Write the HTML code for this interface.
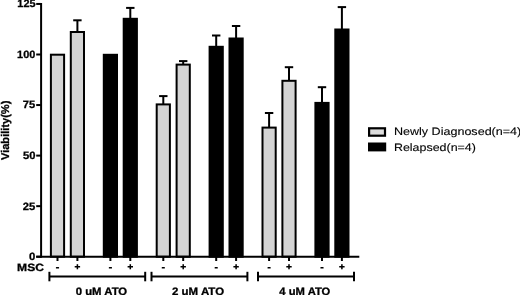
<!DOCTYPE html>
<html><head><meta charset="utf-8"><style>
html,body{margin:0;padding:0;background:#fff;width:520px;height:295px;overflow:hidden}
svg{display:block;will-change:transform}
.b{font-family:"Liberation Sans",sans-serif;font-weight:bold;fill:#000;stroke:#000;stroke-width:0.3px;text-rendering:geometricPrecision}
.r{font-family:"Liberation Sans",sans-serif;font-weight:normal;fill:#000;stroke:#000;stroke-width:0.12px;text-rendering:geometricPrecision}
</style></head><body>
<svg width="520" height="295" viewBox="0 0 520 295">
<rect x="50.90" y="54.70" width="13.20" height="202.00" fill="#d4d4d4" stroke="#000" stroke-width="2.0"/>
<line x1="77.40" y1="20.30" x2="77.40" y2="32.00" stroke="#000" stroke-width="2.0"/>
<line x1="73.20" y1="20.30" x2="81.60" y2="20.30" stroke="#000" stroke-width="2.0"/>
<rect x="70.80" y="32.00" width="13.20" height="224.70" fill="#d4d4d4" stroke="#000" stroke-width="2.0"/>
<rect x="103.80" y="54.80" width="13.20" height="201.90" fill="#000" stroke="#000" stroke-width="2.0"/>
<line x1="130.30" y1="7.90" x2="130.30" y2="18.80" stroke="#000" stroke-width="2.0"/>
<line x1="126.10" y1="7.90" x2="134.50" y2="7.90" stroke="#000" stroke-width="2.0"/>
<rect x="123.70" y="18.80" width="13.20" height="237.90" fill="#000" stroke="#000" stroke-width="2.0"/>
<line x1="163.30" y1="96.10" x2="163.30" y2="104.40" stroke="#000" stroke-width="2.0"/>
<line x1="159.10" y1="96.10" x2="167.50" y2="96.10" stroke="#000" stroke-width="2.0"/>
<rect x="156.70" y="104.40" width="13.20" height="152.30" fill="#d4d4d4" stroke="#000" stroke-width="2.0"/>
<line x1="183.20" y1="61.10" x2="183.20" y2="64.60" stroke="#000" stroke-width="2.0"/>
<line x1="179.00" y1="61.10" x2="187.40" y2="61.10" stroke="#000" stroke-width="2.0"/>
<rect x="176.60" y="64.60" width="13.20" height="192.10" fill="#d4d4d4" stroke="#000" stroke-width="2.0"/>
<line x1="216.20" y1="35.50" x2="216.20" y2="46.80" stroke="#000" stroke-width="2.0"/>
<line x1="212.00" y1="35.50" x2="220.40" y2="35.50" stroke="#000" stroke-width="2.0"/>
<rect x="209.60" y="46.80" width="13.20" height="209.90" fill="#000" stroke="#000" stroke-width="2.0"/>
<line x1="236.10" y1="26.00" x2="236.10" y2="38.50" stroke="#000" stroke-width="2.0"/>
<line x1="231.90" y1="26.00" x2="240.30" y2="26.00" stroke="#000" stroke-width="2.0"/>
<rect x="229.50" y="38.50" width="13.20" height="218.20" fill="#000" stroke="#000" stroke-width="2.0"/>
<line x1="269.10" y1="113.00" x2="269.10" y2="127.60" stroke="#000" stroke-width="2.0"/>
<line x1="264.90" y1="113.00" x2="273.30" y2="113.00" stroke="#000" stroke-width="2.0"/>
<rect x="262.50" y="127.60" width="13.20" height="129.10" fill="#d4d4d4" stroke="#000" stroke-width="2.0"/>
<line x1="289.00" y1="67.20" x2="289.00" y2="80.80" stroke="#000" stroke-width="2.0"/>
<line x1="284.80" y1="67.20" x2="293.20" y2="67.20" stroke="#000" stroke-width="2.0"/>
<rect x="282.40" y="80.80" width="13.20" height="175.90" fill="#d4d4d4" stroke="#000" stroke-width="2.0"/>
<line x1="322.00" y1="87.20" x2="322.00" y2="102.90" stroke="#000" stroke-width="2.0"/>
<line x1="317.80" y1="87.20" x2="326.20" y2="87.20" stroke="#000" stroke-width="2.0"/>
<rect x="315.40" y="102.90" width="13.20" height="153.80" fill="#000" stroke="#000" stroke-width="2.0"/>
<line x1="341.90" y1="7.10" x2="341.90" y2="29.50" stroke="#000" stroke-width="2.0"/>
<line x1="337.70" y1="7.10" x2="346.10" y2="7.10" stroke="#000" stroke-width="2.0"/>
<rect x="335.30" y="29.50" width="13.20" height="227.20" fill="#000" stroke="#000" stroke-width="2.0"/>
<line x1="41.1" y1="3" x2="41.1" y2="257.70" stroke="#000" stroke-width="2.0"/>
<line x1="36.2" y1="256.7" x2="359.3" y2="256.7" stroke="#000" stroke-width="2.0"/>
<line x1="36.2" y1="256.70" x2="41.1" y2="256.70" stroke="#000" stroke-width="2.0"/>
<line x1="36.2" y1="206.15" x2="41.1" y2="206.15" stroke="#000" stroke-width="2.0"/>
<line x1="36.2" y1="155.60" x2="41.1" y2="155.60" stroke="#000" stroke-width="2.0"/>
<line x1="36.2" y1="105.05" x2="41.1" y2="105.05" stroke="#000" stroke-width="2.0"/>
<line x1="36.2" y1="54.50" x2="41.1" y2="54.50" stroke="#000" stroke-width="2.0"/>
<line x1="36.2" y1="3.95" x2="41.1" y2="3.95" stroke="#000" stroke-width="2.0"/>
<text x="17.37" y="7" font-size="10.6" textLength="18.19" lengthAdjust="spacingAndGlyphs" class="b">125</text>
<text x="17.07" y="58" font-size="10.6" textLength="18.23" lengthAdjust="spacingAndGlyphs" class="b">100</text>
<text x="22.78" y="108" font-size="10.6" textLength="12.41" lengthAdjust="spacingAndGlyphs" class="b">75</text>
<text x="22.91" y="159" font-size="10.6" textLength="12.51" lengthAdjust="spacingAndGlyphs" class="b">50</text>
<text x="22.76" y="210" font-size="10.6" textLength="12.53" lengthAdjust="spacingAndGlyphs" class="b">25</text>
<text x="29.10" y="260" font-size="10.6" textLength="6.32" lengthAdjust="spacingAndGlyphs" class="b">0</text>
<line x1="57.50" y1="256.7" x2="57.50" y2="261" stroke="#000" stroke-width="2.0"/>
<line x1="77.40" y1="256.7" x2="77.40" y2="261" stroke="#000" stroke-width="2.0"/>
<line x1="110.40" y1="256.7" x2="110.40" y2="261" stroke="#000" stroke-width="2.0"/>
<line x1="130.30" y1="256.7" x2="130.30" y2="261" stroke="#000" stroke-width="2.0"/>
<line x1="163.30" y1="256.7" x2="163.30" y2="261" stroke="#000" stroke-width="2.0"/>
<line x1="183.20" y1="256.7" x2="183.20" y2="261" stroke="#000" stroke-width="2.0"/>
<line x1="216.20" y1="256.7" x2="216.20" y2="261" stroke="#000" stroke-width="2.0"/>
<line x1="236.10" y1="256.7" x2="236.10" y2="261" stroke="#000" stroke-width="2.0"/>
<line x1="269.10" y1="256.7" x2="269.10" y2="261" stroke="#000" stroke-width="2.0"/>
<line x1="289.00" y1="256.7" x2="289.00" y2="261" stroke="#000" stroke-width="2.0"/>
<line x1="322.00" y1="256.7" x2="322.00" y2="261" stroke="#000" stroke-width="2.0"/>
<line x1="341.90" y1="256.7" x2="341.90" y2="261" stroke="#000" stroke-width="2.0"/>
<text x="17.13" y="271" font-size="10.6" textLength="26.84" lengthAdjust="spacingAndGlyphs" class="b">MSC</text>
<rect x="55.90" y="267.1" width="3.2" height="1.5" rx="0.5" fill="#000"/>
<rect x="74.70" y="266.0" width="5.4" height="1.5" fill="#000"/>
<rect x="76.65" y="264.2" width="1.5" height="5.1" fill="#000"/>
<rect x="108.80" y="267.1" width="3.2" height="1.5" rx="0.5" fill="#000"/>
<rect x="127.60" y="266.0" width="5.4" height="1.5" fill="#000"/>
<rect x="129.55" y="264.2" width="1.5" height="5.1" fill="#000"/>
<rect x="161.70" y="267.1" width="3.2" height="1.5" rx="0.5" fill="#000"/>
<rect x="180.50" y="266.0" width="5.4" height="1.5" fill="#000"/>
<rect x="182.45" y="264.2" width="1.5" height="5.1" fill="#000"/>
<rect x="214.60" y="267.1" width="3.2" height="1.5" rx="0.5" fill="#000"/>
<rect x="233.40" y="266.0" width="5.4" height="1.5" fill="#000"/>
<rect x="235.35" y="264.2" width="1.5" height="5.1" fill="#000"/>
<rect x="267.50" y="267.1" width="3.2" height="1.5" rx="0.5" fill="#000"/>
<rect x="286.30" y="266.0" width="5.4" height="1.5" fill="#000"/>
<rect x="288.25" y="264.2" width="1.5" height="5.1" fill="#000"/>
<rect x="320.40" y="267.1" width="3.2" height="1.5" rx="0.5" fill="#000"/>
<rect x="339.20" y="266.0" width="5.4" height="1.5" fill="#000"/>
<rect x="341.15" y="264.2" width="1.5" height="5.1" fill="#000"/>
<line x1="49.4" y1="276.4" x2="145.2" y2="276.4" stroke="#000" stroke-width="2.0"/>
<line x1="49.4" y1="271.8" x2="49.4" y2="281.3" stroke="#000" stroke-width="2.0"/>
<line x1="145.2" y1="271.8" x2="145.2" y2="281.3" stroke="#000" stroke-width="2.0"/>
<line x1="151.5" y1="276.4" x2="247.4" y2="276.4" stroke="#000" stroke-width="2.0"/>
<line x1="151.5" y1="271.8" x2="151.5" y2="281.3" stroke="#000" stroke-width="2.0"/>
<line x1="247.4" y1="271.8" x2="247.4" y2="281.3" stroke="#000" stroke-width="2.0"/>
<line x1="258" y1="276.4" x2="354" y2="276.4" stroke="#000" stroke-width="2.0"/>
<line x1="258" y1="271.8" x2="258" y2="281.3" stroke="#000" stroke-width="2.0"/>
<line x1="354" y1="271.8" x2="354" y2="281.3" stroke="#000" stroke-width="2.0"/>
<text x="75.70" y="295" font-size="10.8" textLength="51.53" lengthAdjust="spacingAndGlyphs" class="b">0 uM ATO</text>
<text x="172.00" y="295" font-size="10.8" textLength="52.09" lengthAdjust="spacingAndGlyphs" class="b">2 uM ATO</text>
<text x="279.38" y="295" font-size="10.8" textLength="50.94" lengthAdjust="spacingAndGlyphs" class="b">4 uM ATO</text>
<text transform="translate(9,160.03) rotate(-90)" x="0" y="0" font-size="11.2" textLength="59.43" lengthAdjust="spacingAndGlyphs" class="b">Viability(%)</text>
<rect x="369.1" y="128.3" width="15.9" height="7.4" fill="#dddddd" stroke="#000" stroke-width="2.2"/>
<rect x="369" y="143.5" width="16.2" height="6.9" fill="#000" stroke="#000" stroke-width="2.0"/>
<text x="393.96" y="135" font-size="10.8" textLength="127.31" lengthAdjust="spacingAndGlyphs" class="r">Newly Diagnosed(n=4)</text>
<text x="393.97" y="151" font-size="10.8" textLength="81.90" lengthAdjust="spacingAndGlyphs" class="r">Relapsed(n=4)</text>
</svg>
</body></html>
